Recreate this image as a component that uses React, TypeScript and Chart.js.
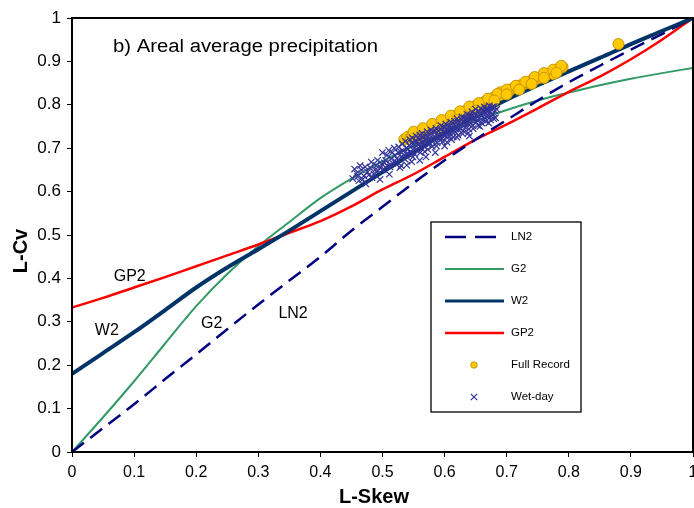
import React, { useEffect, useRef } from "react";
import { Chart, registerables } from "chart.js";

Chart.register(...registerables);

// ---- DATA ----
const SKEW = [0, 0.05, 0.1, 0.15, 0.2, 0.25, 0.3, 0.35, 0.4, 0.45, 0.5, 0.55, 0.6, 0.65, 0.7, 0.75, 0.8, 0.85, 0.9, 0.95, 1];
const LN2 = [0, 0.055, 0.11, 0.168, 0.225, 0.283, 0.34, 0.395, 0.45, 0.51, 0.565, 0.62, 0.672, 0.72, 0.765, 0.81, 0.852, 0.89, 0.927, 0.963, 1];
const G2 = [0, 0.08, 0.163, 0.25, 0.336, 0.41, 0.474, 0.53, 0.585, 0.63, 0.67, 0.705, 0.735, 0.762, 0.788, 0.81, 0.828, 0.845, 0.86, 0.873, 0.885];
const W2 = [0.18, 0.228, 0.276, 0.327, 0.379, 0.425, 0.467, 0.51, 0.555, 0.6, 0.645, 0.69, 0.735, 0.775, 0.812, 0.845, 0.877, 0.908, 0.94, 0.97, 1];
const GP2 = [0.333, 0.355, 0.379, 0.403, 0.428, 0.453, 0.478, 0.505, 0.532, 0.566, 0.605, 0.64, 0.68, 0.72, 0.755, 0.792, 0.83, 0.865, 0.905, 0.95, 1];

const FULL_RECORD: [number, number][] = [
  [0.535, 0.72], [0.54, 0.726], [0.545, 0.724], [0.548, 0.73], [0.552, 0.729], [0.556, 0.733], [0.56, 0.735],
  [0.563, 0.738], [0.567, 0.737], [0.57, 0.742], [0.574, 0.744], [0.578, 0.745], [0.581, 0.749], [0.585, 0.752],
  [0.588, 0.751], [0.592, 0.757], [0.596, 0.758], [0.6, 0.762], [0.603, 0.764], [0.607, 0.765], [0.611, 0.77],
  [0.615, 0.771], [0.618, 0.775], [0.622, 0.778], [0.626, 0.779], [0.63, 0.784], [0.634, 0.786], [0.638, 0.787],
  [0.642, 0.792], [0.646, 0.795], [0.65, 0.796], [0.654, 0.801], [0.658, 0.803], [0.662, 0.804], [0.666, 0.809],
  [0.67, 0.812], [0.675, 0.814], [0.68, 0.818], [0.685, 0.822], [0.69, 0.823], [0.695, 0.828], [0.7, 0.831],
  [0.705, 0.833], [0.71, 0.838], [0.716, 0.84], [0.722, 0.845], [0.728, 0.848], [0.734, 0.851], [0.74, 0.856],
  [0.746, 0.858], [0.752, 0.862], [0.758, 0.866], [0.763, 0.868], [0.768, 0.872], [0.773, 0.875], [0.778, 0.878],
  [0.782, 0.882], [0.786, 0.884], [0.79, 0.887], [0.775, 0.871], [0.76, 0.872], [0.745, 0.862], [0.72, 0.839],
  [0.69, 0.829], [0.655, 0.797], [0.62, 0.77], [0.585, 0.746],
  [0.55, 0.738], [0.565, 0.746], [0.58, 0.756], [0.595, 0.765], [0.61, 0.775], [0.625, 0.785], [0.64, 0.796],
  [0.655, 0.804], [0.67, 0.814], [0.685, 0.825], [0.7, 0.835], [0.715, 0.844], [0.73, 0.853], [0.745, 0.864],
  [0.76, 0.873], [0.775, 0.881], [0.788, 0.89],
  [0.56, 0.725], [0.59, 0.745], [0.62, 0.765], [0.65, 0.787], [0.68, 0.81], [0.7, 0.824], [0.72, 0.835],
  [0.74, 0.848], [0.76, 0.862], [0.78, 0.874],
  [0.88, 0.94],
];

const WET_DAY: [number, number][] = [
  [0.452, 0.63], [0.458, 0.642], [0.462, 0.625], [0.466, 0.65], [0.47, 0.636], [0.473, 0.618], [0.476, 0.645],
  [0.48, 0.655], [0.483, 0.632], [0.486, 0.641], [0.49, 0.66], [0.493, 0.648], [0.496, 0.628], [0.499, 0.664],
  [0.502, 0.652], [0.505, 0.672], [0.508, 0.659], [0.511, 0.64], [0.514, 0.676], [0.517, 0.665], [0.52, 0.683],
  [0.522, 0.668], [0.525, 0.69], [0.528, 0.655], [0.53, 0.68], [0.512, 0.657], [0.539, 0.661], [0.56, 0.672],
  [0.585, 0.69], [0.62, 0.725], [0.57, 0.68], [0.6, 0.705], [0.64, 0.728], [0.53, 0.66], [0.5, 0.65], [0.547, 0.669],
  [0.533, 0.694], [0.536, 0.675], [0.538, 0.7], [0.54, 0.688], [0.543, 0.706], [0.545, 0.692], [0.547, 0.712],
  [0.549, 0.68], [0.551, 0.7], [0.553, 0.717], [0.555, 0.695], [0.557, 0.708], [0.559, 0.722], [0.561, 0.69],
  [0.563, 0.713], [0.565, 0.726], [0.567, 0.704], [0.569, 0.718], [0.571, 0.731], [0.573, 0.697], [0.575, 0.722],
  [0.577, 0.711], [0.579, 0.735], [0.581, 0.716], [0.583, 0.727], [0.585, 0.74], [0.587, 0.705], [0.589, 0.73],
  [0.591, 0.721], [0.593, 0.744], [0.595, 0.733], [0.597, 0.715], [0.599, 0.739], [0.601, 0.748], [0.603, 0.726],
  [0.605, 0.742], [0.607, 0.735], [0.609, 0.752], [0.611, 0.72], [0.613, 0.745], [0.615, 0.756], [0.617, 0.738],
  [0.619, 0.75], [0.621, 0.762],
  [0.623, 0.742], [0.625, 0.755], [0.627, 0.766], [0.629, 0.733], [0.631, 0.76], [0.633, 0.748], [0.635, 0.77],
  [0.637, 0.757], [0.639, 0.744], [0.641, 0.765], [0.643, 0.775], [0.645, 0.752], [0.647, 0.768], [0.649, 0.78],
  [0.651, 0.76], [0.653, 0.772], [0.655, 0.785], [0.657, 0.75], [0.659, 0.776], [0.661, 0.765], [0.663, 0.788],
  [0.665, 0.77], [0.667, 0.78], [0.669, 0.792], [0.671, 0.758], [0.673, 0.783], [0.675, 0.774], [0.677, 0.795],
  [0.679, 0.768], [0.681, 0.786],
  [0.455, 0.652], [0.46, 0.635], [0.464, 0.66], [0.468, 0.628], [0.472, 0.657], [0.478, 0.638], [0.482, 0.668],
  [0.488, 0.65], [0.492, 0.672], [0.497, 0.655], [0.5, 0.69], [0.503, 0.666],
  [0.507, 0.684], [0.51, 0.695], [0.513, 0.662], [0.516, 0.69], [0.519, 0.7], [0.523, 0.676], [0.526, 0.703],
  [0.529, 0.692], [0.532, 0.71], [0.535, 0.684], [0.537, 0.716], [0.541, 0.698], [0.544, 0.72], [0.546, 0.684],
  [0.548, 0.724], [0.55, 0.71], [0.552, 0.686], [0.554, 0.728],
  [0.556, 0.715], [0.558, 0.7], [0.56, 0.73], [0.562, 0.705], [0.564, 0.734], [0.566, 0.716], [0.568, 0.692],
  [0.57, 0.722], [0.572, 0.738], [0.574, 0.708], [0.576, 0.73], [0.578, 0.742], [0.58, 0.704], [0.582, 0.738],
  [0.584, 0.72], [0.586, 0.746], [0.588, 0.712], [0.59, 0.74], [0.592, 0.728], [0.594, 0.752], [0.596, 0.722],
  [0.598, 0.748],
  [0.6, 0.73], [0.602, 0.756], [0.604, 0.714], [0.606, 0.75], [0.608, 0.728], [0.61, 0.76], [0.612, 0.738],
  [0.614, 0.726], [0.616, 0.762], [0.618, 0.744], [0.62, 0.768], [0.622, 0.73], [0.624, 0.76], [0.626, 0.745],
  [0.628, 0.772], [0.63, 0.74], [0.632, 0.77], [0.634, 0.756], [0.636, 0.778], [0.638, 0.735], [0.64, 0.775],
  [0.642, 0.758], [0.644, 0.784], [0.646, 0.745], [0.648, 0.772],
  [0.65, 0.79], [0.652, 0.765], [0.654, 0.752], [0.656, 0.778], [0.658, 0.792], [0.66, 0.758], [0.662, 0.78],
  [0.664, 0.795], [0.666, 0.762], [0.668, 0.785], [0.67, 0.774], [0.672, 0.798], [0.674, 0.765], [0.676, 0.788],
  [0.678, 0.778], [0.68, 0.796], [0.682, 0.77], [0.684, 0.79],
];

const TITLE = "b) Areal average precipitation";
const X_TITLE = "L-Skew";
const Y_TITLE = "L-Cv";
const LEGEND_LABELS = ["LN2", "G2", "W2", "GP2", "Full Record", "Wet-day"];

// ---- STYLES ----
const FONT = '"Liberation Sans", Arial, Helvetica, sans-serif';
const C_LN2 = "#000080";
const C_G2 = "#339966";
const C_W2 = "#003366";
const C_GP2 = "#FF0000";
const C_FULL = "#FFC800";
const C_FULL_EDGE = "#C89600";
const C_WET = "#333399";

const toPts = (ys: number[]) => SKEW.map((x, i) => ({ x, y: ys[i] }));
const pairPts = (arr: [number, number][]) => arr.map(([x, y]) => ({ x, y }));

const overlayPlugin = {
  id: "overlay",
  afterDraw(chart: any) {
    const ctx: CanvasRenderingContext2D = chart.ctx;
    const ca = chart.chartArea;
    const xs = chart.scales.x;
    const ys = chart.scales.y;
    const px = (v: number) => xs.getPixelForValue(v);
    const py = (v: number) => ys.getPixelForValue(v);
    ctx.save();
    // frame
    ctx.strokeStyle = "#000";
    ctx.lineWidth = 2;
    ctx.strokeRect(ca.left, ca.top, ca.right - ca.left, ca.bottom - ca.top);

    // title (slightly wide lettering, as in the original)
    ctx.fillStyle = "#000";
    ctx.font = `18px ${FONT}`;
    ctx.textAlign = "left";
    ctx.textBaseline = "middle";
    const tw = ctx.measureText(TITLE).width;
    ctx.save();
    ctx.translate(px(0.066), py(0.933));
    ctx.scale(265 / tw, 1);
    ctx.fillText(TITLE, 0, 0);
    ctx.restore();

    // curve labels
    ctx.font = `16px ${FONT}`;
    ctx.textAlign = "center";
    ctx.fillText("GP2", px(0.093), py(0.405));
    ctx.fillText("W2", px(0.056), py(0.279));
    ctx.fillText("G2", px(0.225), py(0.297));
    ctx.fillText("LN2", px(0.356), py(0.32));

    // axis titles
    ctx.font = `bold 20px ${FONT}`;
    ctx.fillText(X_TITLE, 374, 497);
    ctx.save();
    ctx.translate(21, 251);
    ctx.rotate(-Math.PI / 2);
    ctx.fillText(Y_TITLE, 0, 0);
    ctx.restore();

    // legend
    const bx = 431, by = 222, bw = 150, bh = 190;
    ctx.fillStyle = "#fff";
    ctx.fillRect(bx, by, bw, bh);
    ctx.strokeStyle = "#000";
    ctx.lineWidth = 1.3;
    ctx.strokeRect(bx, by, bw, bh);
    const rowY = (i: number) => 237 + i * 32;
    const lx0 = 445, lx1 = 504, tx = 511, mx = 474;
    const lines = [
      { c: C_LN2, w: 2.5, d: [21, 9] },
      { c: C_G2, w: 2, d: [] },
      { c: C_W2, w: 3, d: [] },
      { c: C_GP2, w: 2.5, d: [] },
    ];
    lines.forEach((l, i) => {
      ctx.beginPath();
      ctx.strokeStyle = l.c;
      ctx.lineWidth = l.w;
      ctx.setLineDash(l.d);
      ctx.moveTo(lx0, rowY(i));
      ctx.lineTo(lx1, rowY(i));
      ctx.stroke();
    });
    ctx.setLineDash([]);
    ctx.beginPath();
    ctx.arc(mx, rowY(4), 3.2, 0, Math.PI * 2);
    ctx.fillStyle = C_FULL;
    ctx.fill();
    ctx.strokeStyle = C_FULL_EDGE;
    ctx.lineWidth = 1;
    ctx.stroke();
    ctx.beginPath();
    ctx.strokeStyle = C_WET;
    ctx.lineWidth = 1.2;
    const r = 3.2;
    ctx.moveTo(mx - r, rowY(5) - r);
    ctx.lineTo(mx + r, rowY(5) + r);
    ctx.moveTo(mx + r, rowY(5) - r);
    ctx.lineTo(mx - r, rowY(5) + r);
    ctx.stroke();
    ctx.fillStyle = "#000";
    ctx.font = `11.5px ${FONT}`;
    ctx.textAlign = "left";
    ctx.textBaseline = "middle";
    LEGEND_LABELS.forEach((t, i) => ctx.fillText(t, tx, rowY(i)));
    ctx.restore();
  },
};

export default function App() {
  const ref = useRef<HTMLCanvasElement | null>(null);
  useEffect(() => {
    if (!ref.current) return;
    const tickFmt = (v: any) => String(Number(Number(v).toFixed(1)));
    const lineDs = (label: string, ys: number[], color: string, width: number, dash: number[] = []) => ({
      label,
      data: toPts(ys),
      showLine: true,
      borderColor: color,
      backgroundColor: color,
      borderWidth: width,
      borderDash: dash,
      pointRadius: 0,
      cubicInterpolationMode: "monotone",
    });
    const chart = new Chart(ref.current, {
      type: "scatter",
      data: {
        datasets: [
          {
            label: "Wet-day",
            data: pairPts(WET_DAY),
            pointStyle: "crossRot",
            pointRadius: 4.5,
            borderColor: C_WET,
            backgroundColor: C_WET,
            borderWidth: 1.2,
            showLine: false,
          },
          {
            label: "Full Record",
            data: pairPts(FULL_RECORD),
            pointStyle: "circle",
            pointRadius: 5.5,
            backgroundColor: C_FULL,
            borderColor: C_FULL_EDGE,
            borderWidth: 1,
            showLine: false,
          },
          lineDs("W2", W2, C_W2, 4),
          lineDs("LN2", LN2, C_LN2, 2.5, [15, 8]),
          lineDs("GP2", GP2, C_GP2, 2.5),
          lineDs("G2", G2, C_G2, 2),
        ],
      },
      options: {
        animation: false,
        responsive: false,
        maintainAspectRatio: false,
        layout: { padding: { left: 0, right: 17, top: 18, bottom: 0 } },
        plugins: { legend: { display: false }, tooltip: { enabled: false } },
        scales: {
          x: {
            type: "linear",
            min: 0,
            max: 1,
            ticks: { stepSize: 0.1, color: "#000", font: { family: FONT, size: 16 }, padding: 6, callback: tickFmt, maxRotation: 0, autoSkip: false },
            grid: { display: true, drawOnChartArea: false, drawTicks: true, tickLength: 5, color: "#000", lineWidth: 1 },
            border: { display: false },
            afterFit: (s: any) => {
              s.height = 56;
            },
          },
          y: {
            type: "linear",
            min: 0,
            max: 1,
            ticks: { stepSize: 0.1, color: "#000", font: { family: FONT, size: 17 }, padding: 6, callback: tickFmt, autoSkip: false },
            grid: { display: true, drawOnChartArea: false, drawTicks: true, tickLength: 5, color: "#000", lineWidth: 1 },
            border: { display: false },
            afterFit: (s: any) => {
              s.width = 72;
              s.paddingTop = 0;
              s.paddingBottom = 0;
            },
          },
        },
      },
      plugins: [overlayPlugin],
    } as any);
    return () => chart.destroy();
  }, []);
  return (
    <div style={{ position: "fixed", left: 0, top: 0, width: 694, height: 508, overflow: "hidden", background: "#fff" }}>
      <canvas ref={ref} width={710} height={508} style={{ width: 710, height: 508, display: "block" }} />
    </div>
  );
}
